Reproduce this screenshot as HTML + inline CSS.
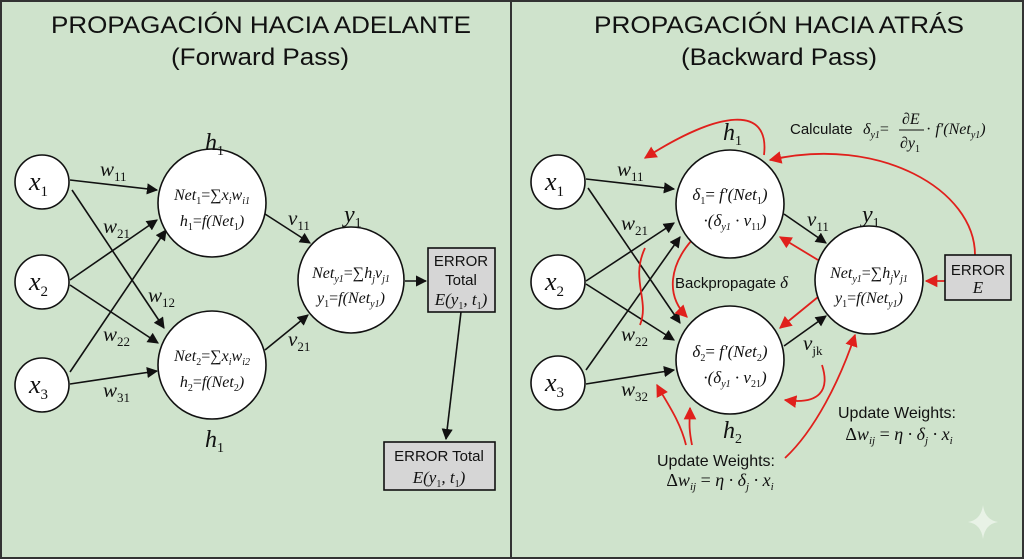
<!DOCTYPE html>
<html><head><meta charset="utf-8"><style>
html,body{margin:0;padding:0;background:#cfe3cc;}
svg{display:block}
.s{font-family:"Liberation Sans",sans-serif;}
.m{font-family:"Liberation Serif",serif;font-style:italic;}
</style></head><body>
<svg width="1024" height="559" viewBox="0 0 1024 559" xmlns="http://www.w3.org/2000/svg">
<defs>
<marker id="a" viewBox="0 0 10 10" refX="9" refY="5" markerWidth="7" markerHeight="7" orient="auto-start-reverse"><path d="M0,0L10,5L0,10z" fill="#111"/></marker>
<marker id="r" viewBox="0 0 10 10" refX="9" refY="5" markerWidth="7" markerHeight="7" orient="auto-start-reverse"><path d="M0,0L10,5L0,10z" fill="#e0201c"/></marker>
</defs>
<rect x="0" y="0" width="1024" height="559" fill="#cfe3cc"/>
<rect x="1" y="1" width="1022" height="557" fill="none" stroke="#333" stroke-width="2"/>
<line x1="511" y1="0" x2="511" y2="559" stroke="#333" stroke-width="2"/>

<g class="s" font-size="24" text-anchor="middle" fill="#111">
<text x="261" y="33" textLength="420" lengthAdjust="spacingAndGlyphs">PROPAGACIÓN HACIA ADELANTE</text>
<text x="260" y="65" textLength="178" lengthAdjust="spacingAndGlyphs">(Forward Pass)</text>
<text x="779" y="33" textLength="370" lengthAdjust="spacingAndGlyphs">PROPAGACIÓN HACIA ATRÁS</text>
<text x="779" y="65" textLength="196" lengthAdjust="spacingAndGlyphs">(Backward Pass)</text>
</g>

<!-- LEFT edges -->
<g stroke="#111" stroke-width="1.6" fill="none" marker-end="url(#a)">
<line x1="70" y1="180" x2="157" y2="190"/>
<line x1="72" y1="190" x2="164" y2="328"/>
<line x1="70" y1="280" x2="157" y2="220"/>
<line x1="70" y1="285" x2="158" y2="343"/>
<line x1="70" y1="372" x2="166" y2="230"/>
<line x1="70" y1="384" x2="157" y2="371"/>
<line x1="265" y1="214" x2="310" y2="243"/>
<line x1="265" y1="350" x2="308" y2="315"/>
<line x1="405" y1="281" x2="426" y2="281"/>
<line x1="461" y1="312" x2="446" y2="439"/>
</g>
<g fill="#fff" stroke="#111" stroke-width="1.6">
<circle cx="42" cy="182" r="27"/><circle cx="42" cy="282" r="27"/><circle cx="42" cy="385" r="27"/>
<circle cx="212" cy="203" r="54"/><circle cx="212" cy="365" r="54"/><circle cx="351" cy="280" r="53"/>
</g>
<g fill="#d6d6d6" stroke="#111" stroke-width="1.6">
<rect x="428" y="248" width="67" height="64"/><rect x="384" y="442" width="111" height="48"/>
</g>
<g class="m" fill="#111">
<text x="29" y="190" font-size="26">x<tspan font-size="15" font-style="normal" dy="6">1</tspan></text>
<text x="29" y="290" font-size="26">x<tspan font-size="15" font-style="normal" dy="6">2</tspan></text>
<text x="29" y="393" font-size="26">x<tspan font-size="15" font-style="normal" dy="6">3</tspan></text>
<text x="205" y="150" font-size="24">h<tspan font-size="14" font-style="normal" dy="5">1</tspan></text>
<text x="205" y="447" font-size="24">h<tspan font-size="14" font-style="normal" dy="5">1</tspan></text>
<text x="344" y="222" font-size="24">y<tspan font-size="14" font-style="normal" dy="5">1</tspan></text>
<g font-size="21">
<text x="100" y="176">w<tspan font-size="13" font-style="normal" dy="5">11</tspan></text>
<text x="103" y="233">w<tspan font-size="13" font-style="normal" dy="5">21</tspan></text>
<text x="148" y="302">w<tspan font-size="13" font-style="normal" dy="5">12</tspan></text>
<text x="103" y="341">w<tspan font-size="13" font-style="normal" dy="5">22</tspan></text>
<text x="103" y="397">w<tspan font-size="13" font-style="normal" dy="5">31</tspan></text>
<text x="288" y="225">v<tspan font-size="13" font-style="normal" dy="5">11</tspan></text>
<text x="288" y="346">v<tspan font-size="13" font-style="normal" dy="5">21</tspan></text>
</g>
<g font-size="16" text-anchor="middle">
<text x="212" y="200">Net<tspan font-size="10" dy="4" font-style="normal">1</tspan><tspan dy="-4" font-style="normal">=∑</tspan>x<tspan font-size="10" dy="4">i</tspan><tspan dy="-4">w</tspan><tspan font-size="10" dy="4">i1</tspan></text>
<text x="212" y="226">h<tspan font-size="10" dy="4" font-style="normal">1</tspan><tspan dy="-4" font-style="normal">=</tspan>f(Net<tspan font-size="10" dy="4" font-style="normal">1</tspan><tspan dy="-4">)</tspan></text>
<text x="212" y="361">Net<tspan font-size="10" dy="4" font-style="normal">2</tspan><tspan dy="-4" font-style="normal">=∑</tspan>x<tspan font-size="10" dy="4">i</tspan><tspan dy="-4">w</tspan><tspan font-size="10" dy="4">i2</tspan></text>
<text x="212" y="387">h<tspan font-size="10" dy="4" font-style="normal">2</tspan><tspan dy="-4" font-style="normal">=</tspan>f(Net<tspan font-size="10" dy="4" font-style="normal">2</tspan><tspan dy="-4">)</tspan></text>
<text x="351" y="278">Net<tspan font-size="10" dy="4">y1</tspan><tspan dy="-4" font-style="normal">=∑</tspan>h<tspan font-size="10" dy="4">j</tspan><tspan dy="-4">v</tspan><tspan font-size="10" dy="4">j1</tspan></text>
<text x="351" y="303">y<tspan font-size="10" dy="4" font-style="normal">1</tspan><tspan dy="-4" font-style="normal">=</tspan>f(Net<tspan font-size="10" dy="4">y1</tspan><tspan dy="-4">)</tspan></text>
<text x="461" y="305" font-size="17">E(y<tspan font-size="10" dy="4" font-style="normal">1</tspan><tspan dy="-4">, t</tspan><tspan font-size="10" dy="4" font-style="normal">1</tspan><tspan dy="-4">)</tspan></text>
<text x="439" y="483" font-size="17">E(y<tspan font-size="10" dy="4" font-style="normal">1</tspan><tspan dy="-4">, t</tspan><tspan font-size="10" dy="4" font-style="normal">1</tspan><tspan dy="-4">)</tspan></text>
</g>
</g>
<g class="s" font-size="15" text-anchor="middle" fill="#111">
<text x="461" y="266">ERROR</text><text x="461" y="285">Total</text>
<text x="439" y="461">ERROR Total</text>
</g>

<!-- RIGHT black edges -->
<g stroke="#111" stroke-width="1.6" fill="none" marker-end="url(#a)">
<line x1="586" y1="179" x2="674" y2="189"/>
<line x1="588" y1="188" x2="680" y2="323"/>
<line x1="586" y1="281" x2="674" y2="223"/>
<line x1="586" y1="284" x2="674" y2="340"/>
<line x1="586" y1="370" x2="680" y2="237"/>
<line x1="586" y1="384" x2="674" y2="370"/>
<line x1="784" y1="214" x2="826" y2="243"/>
<line x1="784" y1="346" x2="826" y2="316"/>
</g>
<!-- red arrows -->
<g stroke="#e0201c" stroke-width="1.8" fill="none" marker-end="url(#r)">
<path d="M764,155 C770,105 720,110 645,158"/>
<path d="M975,255 C975,190 880,135 770,160"/>
<path d="M945,281 L926,281"/>
<path d="M818,260 L780,237"/>
<path d="M818,297 L780,328"/>
<path d="M692,240 C670,265 665,295 687,317"/>
<path d="M645,248 C630,280 650,300 640,325" marker-end="none"/>
<path d="M822,365 C830,390 820,405 785,400"/>
<path d="M686,445 C680,420 665,400 657,385"/>
<path d="M692,445 C688,425 690,420 690,408"/>
<path d="M785,458 C815,430 840,380 855,335"/>
</g>
<g fill="#fff" stroke="#111" stroke-width="1.6">
<circle cx="558" cy="182" r="27"/><circle cx="558" cy="282" r="27"/><circle cx="558" cy="383" r="27"/>
<circle cx="730" cy="204" r="54"/><circle cx="730" cy="360" r="54"/><circle cx="869" cy="280" r="54"/>
</g>
<rect x="945" y="255" width="66" height="45" fill="#d6d6d6" stroke="#111" stroke-width="1.6"/>
<g class="m" fill="#111">
<text x="545" y="190" font-size="26">x<tspan font-size="15" font-style="normal" dy="6">1</tspan></text>
<text x="545" y="290" font-size="26">x<tspan font-size="15" font-style="normal" dy="6">2</tspan></text>
<text x="545" y="391" font-size="26">x<tspan font-size="15" font-style="normal" dy="6">3</tspan></text>
<text x="723" y="140" font-size="24">h<tspan font-size="14" font-style="normal" dy="5">1</tspan></text>
<text x="723" y="438" font-size="24">h<tspan font-size="14" font-style="normal" dy="5">2</tspan></text>
<text x="862" y="222" font-size="24">y<tspan font-size="14" font-style="normal" dy="5">1</tspan></text>
<g font-size="21">
<text x="617" y="176">w<tspan font-size="13" font-style="normal" dy="5">11</tspan></text>
<text x="621" y="230">w<tspan font-size="13" font-style="normal" dy="5">21</tspan></text>
<text x="621" y="341">w<tspan font-size="13" font-style="normal" dy="5">22</tspan></text>
<text x="621" y="396">w<tspan font-size="13" font-style="normal" dy="5">32</tspan></text>
<text x="807" y="226">v<tspan font-size="13" font-style="normal" dy="5">11</tspan></text>
<text x="803" y="350">v<tspan font-size="13" font-style="normal" dy="5">jk</tspan></text>
</g>
<g font-size="17" text-anchor="middle">
<text x="730" y="200">δ<tspan font-size="10" dy="4" font-style="normal">1</tspan><tspan dy="-4" font-style="normal">= </tspan>f′(Net<tspan font-size="10" dy="4" font-style="normal">1</tspan><tspan dy="-4">)</tspan></text>
<text x="735" y="226">·(δ<tspan font-size="10" dy="4">y1</tspan><tspan dy="-4"> · v</tspan><tspan font-size="10" dy="4" font-style="normal">11</tspan><tspan dy="-4">)</tspan></text>
<text x="730" y="357">δ<tspan font-size="10" dy="4" font-style="normal">2</tspan><tspan dy="-4" font-style="normal">= </tspan>f′(Net<tspan font-size="10" dy="4" font-style="normal">2</tspan><tspan dy="-4">)</tspan></text>
<text x="735" y="383">·(δ<tspan font-size="10" dy="4">y1</tspan><tspan dy="-4"> · v</tspan><tspan font-size="10" dy="4" font-style="normal">21</tspan><tspan dy="-4">)</tspan></text>
<text x="869" y="278" font-size="16">Net<tspan font-size="10" dy="4">y1</tspan><tspan dy="-4" font-style="normal">=∑</tspan>h<tspan font-size="10" dy="4">j</tspan><tspan dy="-4">v</tspan><tspan font-size="10" dy="4">j1</tspan></text>
<text x="869" y="303" font-size="16">y<tspan font-size="10" dy="4" font-style="normal">1</tspan><tspan dy="-4" font-style="normal">=</tspan>f(Net<tspan font-size="10" dy="4">y1</tspan><tspan dy="-4">)</tspan></text>
<text x="978" y="293" font-size="17">E</text>
<text x="720" y="486" font-size="18"><tspan font-style="normal">Δ</tspan>w<tspan font-size="11" dy="4">ij</tspan><tspan dy="-4" font-style="normal"> = </tspan>η · δ<tspan font-size="11" dy="4">j</tspan><tspan dy="-4"> · x</tspan><tspan font-size="11" dy="4">i</tspan></text>
<text x="899" y="440" font-size="18"><tspan font-style="normal">Δ</tspan>w<tspan font-size="11" dy="4">ij</tspan><tspan dy="-4" font-style="normal"> = </tspan>η · δ<tspan font-size="11" dy="4">j</tspan><tspan dy="-4"> · x</tspan><tspan font-size="11" dy="4">i</tspan></text>
</g>
<g font-size="16">
<text x="863" y="134">δ<tspan font-size="10" dy="4">y1</tspan><tspan dy="-4" font-style="normal">=</tspan></text>
<text x="902" y="124">∂E</text>
<line x1="899" y1="130" x2="924" y2="130" stroke="#111" stroke-width="1"/>
<text x="900" y="148">∂y<tspan font-size="10" dy="4" font-style="normal">1</tspan></text>
<text x="926" y="134"><tspan font-style="normal">·</tspan> f′(Net<tspan font-size="10" dy="4">y1</tspan><tspan dy="-4">)</tspan></text>
</g>
</g>
<g class="s" fill="#111">
<text x="790" y="134" font-size="15">Calculate</text>
<text x="675" y="288" font-size="15">Backpropagate <tspan class="m" font-size="17">δ</tspan></text>
<text x="978" y="275" font-size="15" text-anchor="middle">ERROR</text>
<text x="716" y="466" font-size="16" text-anchor="middle">Update Weights:</text>
<text x="897" y="418" font-size="16" text-anchor="middle">Update Weights:</text>
</g>
<path d="M983,505 Q985,520 998,522 Q985,524 983,539 Q981,524 968,522 Q981,520 983,505z" fill="#e8f2e6"/>
</svg>
</body></html>
